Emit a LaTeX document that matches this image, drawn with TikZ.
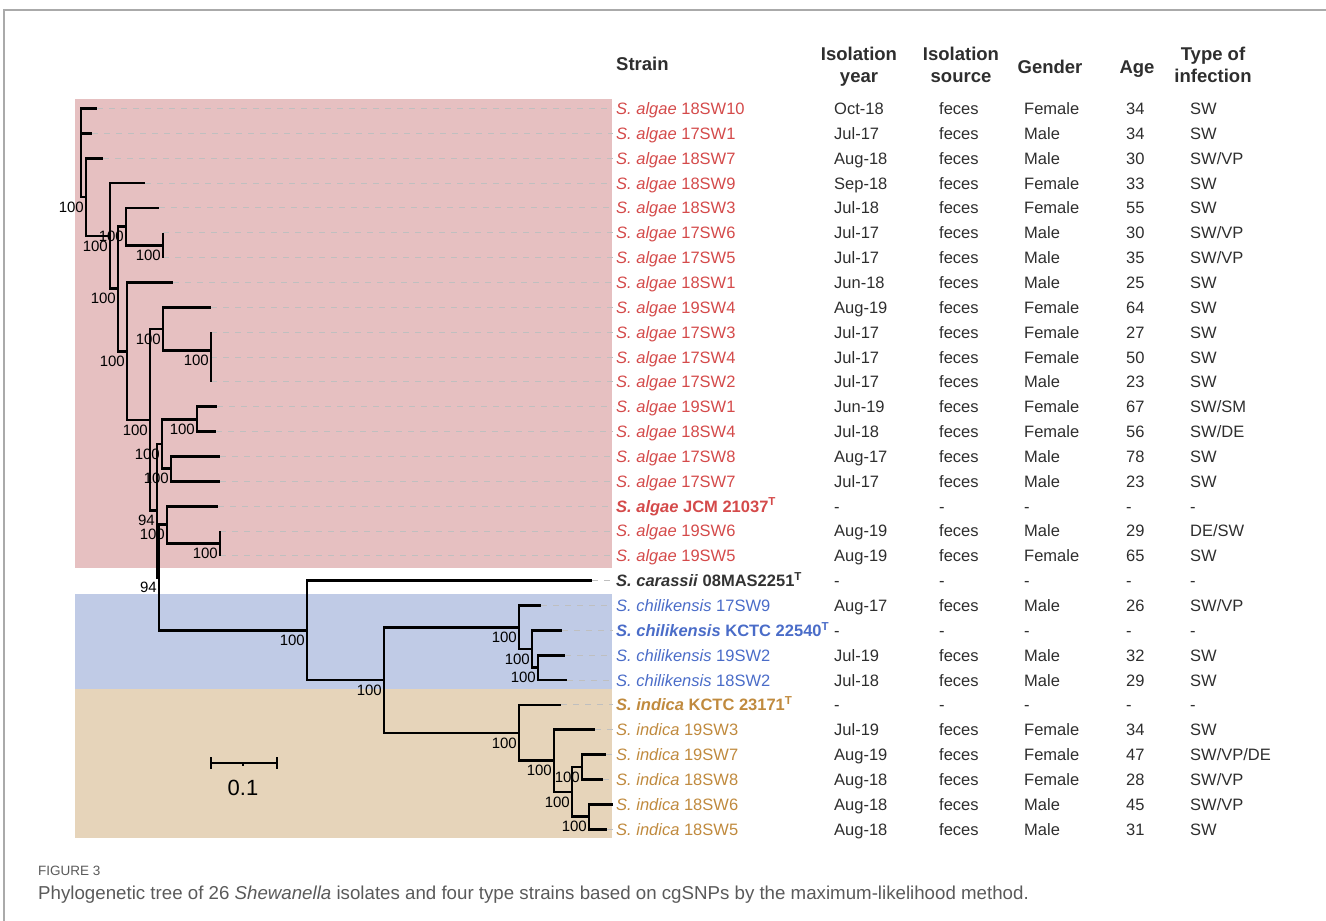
\documentclass[tikz,border=0pt]{standalone}
\usepackage{fontspec}
\setmainfont{Liberation Sans}
\definecolor{pinkbg}{HTML}{E6C0C1}
\definecolor{bluebg}{HTML}{C0CBE6}
\definecolor{tanbg}{HTML}{E6D4BA}
\definecolor{algaeC}{HTML}{D44A4A}
\definecolor{chiliC}{HTML}{4A6CC8}
\definecolor{indicaC}{HTML}{C08A3E}
\definecolor{carC}{HTML}{333333}
\definecolor{cellC}{HTML}{2E2E2E}
\definecolor{frameC}{HTML}{AAAAAA}
\definecolor{capC}{HTML}{5A5A5A}
\newcommand\rowy[1]{108.5+(#1-1)*24.85}
\newcommand\leaf[4]{%
  \coordinate (l#1) at (#2,{\rowy{#1}});
  \node[lab,text=#3] (t#1) at (616,{\rowy{#1}+6}) {#4};
  \draw[leafdash] (l#1) -- (l#1 -| t#1.west);
}
\newcommand\tabrow[6]{%
  \node[cell] (yr#1) at (834,{\rowy{#1}+6}) {#2};
  \node[cell] (sr#1) at (939,{\rowy{#1}+6}) {#3};
  \node[cell] (ge#1) at (1024,{\rowy{#1}+6}) {#4};
  \node[cell] (ag#1) at (1126,{\rowy{#1}+6}) {#5};
  \node[cell] (ty#1) at (1190,{\rowy{#1}+6}) {#6};
}
\tikzset{
  branch/.style={line width=2.8pt, draw=black},
  leafdash/.style={draw=gray!50, line width=0.9pt, dash pattern=on 6pt off 6pt, shorten >=3pt},
  lab/.style={anchor=base west, inner sep=0pt, font=\fontsize{16.5}{18}\selectfont},
  cell/.style={anchor=base west, inner sep=0pt, font=\fontsize{16.5}{18}\selectfont, text=cellC},
  hdr/.style={anchor=base, inner sep=0pt, font=\fontsize{18.5}{22}\selectfont\bfseries, text=cellC},
  bs/.style={anchor=east, inner sep=0pt, font=\fontsize{15}{15}\selectfont, text=black},
}
\begin{document}
\begin{tikzpicture}[x=1pt,y=-1pt]
\useasboundingbox (0,0) rectangle (1326,921);
% frame
\coordinate (fA) at (4,921); \coordinate (fB) at (4,10); \coordinate (fC) at (1326,10);
\draw[frameC, line width=1.5pt] (fA) -- (fB) -- (fC);
% backgrounds
\fill[pinkbg] (75,99) rectangle (612,568);
\fill[bluebg] (75,594) rectangle (612,689);
\fill[tanbg] (75,689) rectangle (612,838);
% header
\node[hdr, anchor=base west] (hStrain) at (616,70) {Strain};
\node[hdr] (hYr1) at (859,60) {Isolation};
\node[hdr] (hYr2) at (859,82) {year};
\node[hdr] (hSr1) at (961,60) {Isolation};
\node[hdr] (hSr2) at (961,82) {source};
\node[hdr] (hGen) at (1050,73) {Gender};
\node[hdr] (hAge) at (1137,73) {Age};
\node[hdr] (hTy1) at (1213,60) {Type of};
\node[hdr] (hTy2) at (1213,82) {infection};
% leaves
\leaf{1}{97}{algaeC}{\textit{S. algae} 18SW10}
\leaf{2}{92}{algaeC}{\textit{S. algae} 17SW1}
\leaf{3}{103}{algaeC}{\textit{S. algae} 18SW7}
\leaf{4}{145}{algaeC}{\textit{S. algae} 18SW9}
\leaf{5}{159}{algaeC}{\textit{S. algae} 18SW3}
\leaf{6}{163}{algaeC}{\textit{S. algae} 17SW6}
\leaf{7}{163}{algaeC}{\textit{S. algae} 17SW5}
\leaf{8}{173}{algaeC}{\textit{S. algae} 18SW1}
\leaf{9}{211}{algaeC}{\textit{S. algae} 19SW4}
\leaf{10}{211}{algaeC}{\textit{S. algae} 17SW3}
\leaf{11}{211}{algaeC}{\textit{S. algae} 17SW4}
\leaf{12}{211}{algaeC}{\textit{S. algae} 17SW2}
\leaf{13}{217}{algaeC}{\textit{S. algae} 19SW1}
\leaf{14}{216}{algaeC}{\textit{S. algae} 18SW4}
\leaf{15}{220}{algaeC}{\textit{S. algae} 17SW8}
\leaf{16}{220}{algaeC}{\textit{S. algae} 17SW7}
\leaf{17}{218}{algaeC}{\textbf{\textit{S. algae} JCM 21037\textsuperscript{T}}}
\leaf{18}{220}{algaeC}{\textit{S. algae} 19SW6}
\leaf{19}{220}{algaeC}{\textit{S. algae} 19SW5}
\leaf{20}{592}{carC}{\textbf{\textit{S. carassii} 08MAS2251\textsuperscript{T}}}
\leaf{21}{541}{chiliC}{\textit{S. chilikensis} 17SW9}
\leaf{22}{562}{chiliC}{\textbf{\textit{S. chilikensis} KCTC 22540\textsuperscript{T}}}
\leaf{23}{565}{chiliC}{\textit{S. chilikensis} 19SW2}
\leaf{24}{567}{chiliC}{\textit{S. chilikensis} 18SW2}
\leaf{25}{561}{indicaC}{\textbf{\textit{S. indica} KCTC 23171\textsuperscript{T}}}
\leaf{26}{595}{indicaC}{\textit{S. indica} 19SW3}
\leaf{27}{606}{indicaC}{\textit{S. indica} 19SW7}
\leaf{28}{603}{indicaC}{\textit{S. indica} 18SW8}
\leaf{29}{613}{indicaC}{\textit{S. indica} 18SW6}
\leaf{30}{607}{indicaC}{\textit{S. indica} 18SW5}
% table rows
\tabrow{1}{Oct-18}{feces}{Female}{34}{SW}
\tabrow{2}{Jul-17}{feces}{Male}{34}{SW}
\tabrow{3}{Aug-18}{feces}{Male}{30}{SW/VP}
\tabrow{4}{Sep-18}{feces}{Female}{33}{SW}
\tabrow{5}{Jul-18}{feces}{Female}{55}{SW}
\tabrow{6}{Jul-17}{feces}{Male}{30}{SW/VP}
\tabrow{7}{Jul-17}{feces}{Male}{35}{SW/VP}
\tabrow{8}{Jun-18}{feces}{Male}{25}{SW}
\tabrow{9}{Aug-19}{feces}{Female}{64}{SW}
\tabrow{10}{Jul-17}{feces}{Female}{27}{SW}
\tabrow{11}{Jul-17}{feces}{Female}{50}{SW}
\tabrow{12}{Jul-17}{feces}{Male}{23}{SW}
\tabrow{13}{Jun-19}{feces}{Female}{67}{SW/SM}
\tabrow{14}{Jul-18}{feces}{Female}{56}{SW/DE}
\tabrow{15}{Aug-17}{feces}{Male}{78}{SW}
\tabrow{16}{Jul-17}{feces}{Male}{23}{SW}
\tabrow{17}{-}{-}{-}{-}{-}
\tabrow{18}{Aug-19}{feces}{Male}{29}{DE/SW}
\tabrow{19}{Aug-19}{feces}{Female}{65}{SW}
\tabrow{20}{-}{-}{-}{-}{-}
\tabrow{21}{Aug-17}{feces}{Male}{26}{SW/VP}
\tabrow{22}{-}{-}{-}{-}{-}
\tabrow{23}{Jul-19}{feces}{Male}{32}{SW}
\tabrow{24}{Jul-18}{feces}{Male}{29}{SW}
\tabrow{25}{-}{-}{-}{-}{-}
\tabrow{26}{Jul-19}{feces}{Female}{34}{SW}
\tabrow{27}{Aug-19}{feces}{Female}{47}{SW/VP/DE}
\tabrow{28}{Aug-18}{feces}{Female}{28}{SW/VP}
\tabrow{29}{Aug-18}{feces}{Male}{45}{SW/VP}
\tabrow{30}{Aug-18}{feces}{Male}{31}{SW}
% internal nodes
\coordinate (n1) at (81,153);
\coordinate (n2) at (86,197.0);
\coordinate (n3) at (110,235.9);
\coordinate (n4) at (118,288.8);
\coordinate (n5) at (126,226.5);
\coordinate (n6) at (163,245.2);
\coordinate (n7) at (127,351.2);
\coordinate (n8) at (150,419.9);
\coordinate (n9) at (163,329.0);
\coordinate (n10) at (211,350.8);
\coordinate (n10b) at (211,369.4);
\coordinate (n11) at (157,510.8);
\coordinate (n12) at (162,444.0);
\coordinate (n13) at (197,419.1);
\coordinate (n14) at (171,468.8);
\coordinate (n18) at (159,577.5);
\coordinate (n16) at (167,524.7);
\coordinate (n17) at (220,543.4);
\coordinate (n19) at (307,630.3);
\coordinate (n20) at (384,680.0);
\coordinate (n21) at (519,627.2);
\coordinate (n22a) at (532,649.0);
\coordinate (n22b) at (538,667.6);
\coordinate (n23) at (519,732.9);
\coordinate (n24) at (554,760.8);
\coordinate (n25) at (572,791.9);
\coordinate (n26) at (582,767.0);
\coordinate (n27) at (589,816.7);
% branches
\foreach \p/\c in {n1/l1,n1/l2,n1/n2,n2/l3,n2/n3,n3/l4,n3/n4,n4/n5,n4/n7,
  n5/l5,n5/n6,n6/l6,n6/l7,n7/l8,n7/n8,n8/n9,n8/n11,n9/l9,n9/n10,n10/l10,n10/n10b,
  n10b/l11,n10b/l12,n11/n12,n11/n18,n12/n13,n12/n14,n13/l13,n13/l14,n14/l15,n14/l16,
  n18/n16,n18/n19,n16/l17,n16/n17,n17/l18,n17/l19,n19/l20,n19/n20,n20/n21,n20/n23,
  n21/l21,n21/n22a,n22a/l22,n22a/n22b,n22b/l23,n22b/l24,n23/l25,n23/n24,n24/l26,n24/n25,
  n25/n26,n25/n27,n26/l27,n26/l28,n27/l29,n27/l30}
  \draw[branch] (\p) |- (\c);
% bootstrap values
\foreach \n/\v in {n2/100,n3/100,n5/100,n6/100,n4/100,n7/100,n9/100,n10/100,n8/100,
  n13/100,n12/100,n14/100,n11/94,n16/100,n17/100,n18/94,n19/100,n21/100,n22a/100,
  n22b/100,n20/100,n23/100,n24/100,n26/100,n25/100,n27/100}
  \node[bs] (bs-\n) at ([xshift=-2pt,yshift=-10pt]\n) {\v};
% scale bar
\coordinate (sbL) at (211,763); \coordinate (sbR) at (277,763); \coordinate (sbM) at (243,763);
\draw[line width=2pt] (sbL) -- (sbR);
\draw[line width=2pt] ([yshift=6pt]sbL) -- ([yshift=-6pt]sbL);
\draw[line width=2pt] ([yshift=6pt]sbR) -- ([yshift=-6pt]sbR);
\draw[line width=2pt] (sbM) -- ([yshift=-3pt]sbM);
\node[anchor=base, inner sep=0pt, font=\fontsize{22}{22}\selectfont] (sbLab) at (243,795) {0.1};
% caption
\node[anchor=base west, inner sep=0pt, font=\fontsize{13.5}{13.5}\selectfont, text=capC] (figno) at (38,875) {FIGURE 3};
\node[anchor=base west, inner sep=0pt, font=\fontsize{18.7}{18.7}\selectfont, text=capC] (cap) at (38,899) {Phylogenetic tree of 26 \textit{Shewanella} isolates and four type strains based on cgSNPs by the maximum-likelihood method.};
\end{tikzpicture}
\end{document}
